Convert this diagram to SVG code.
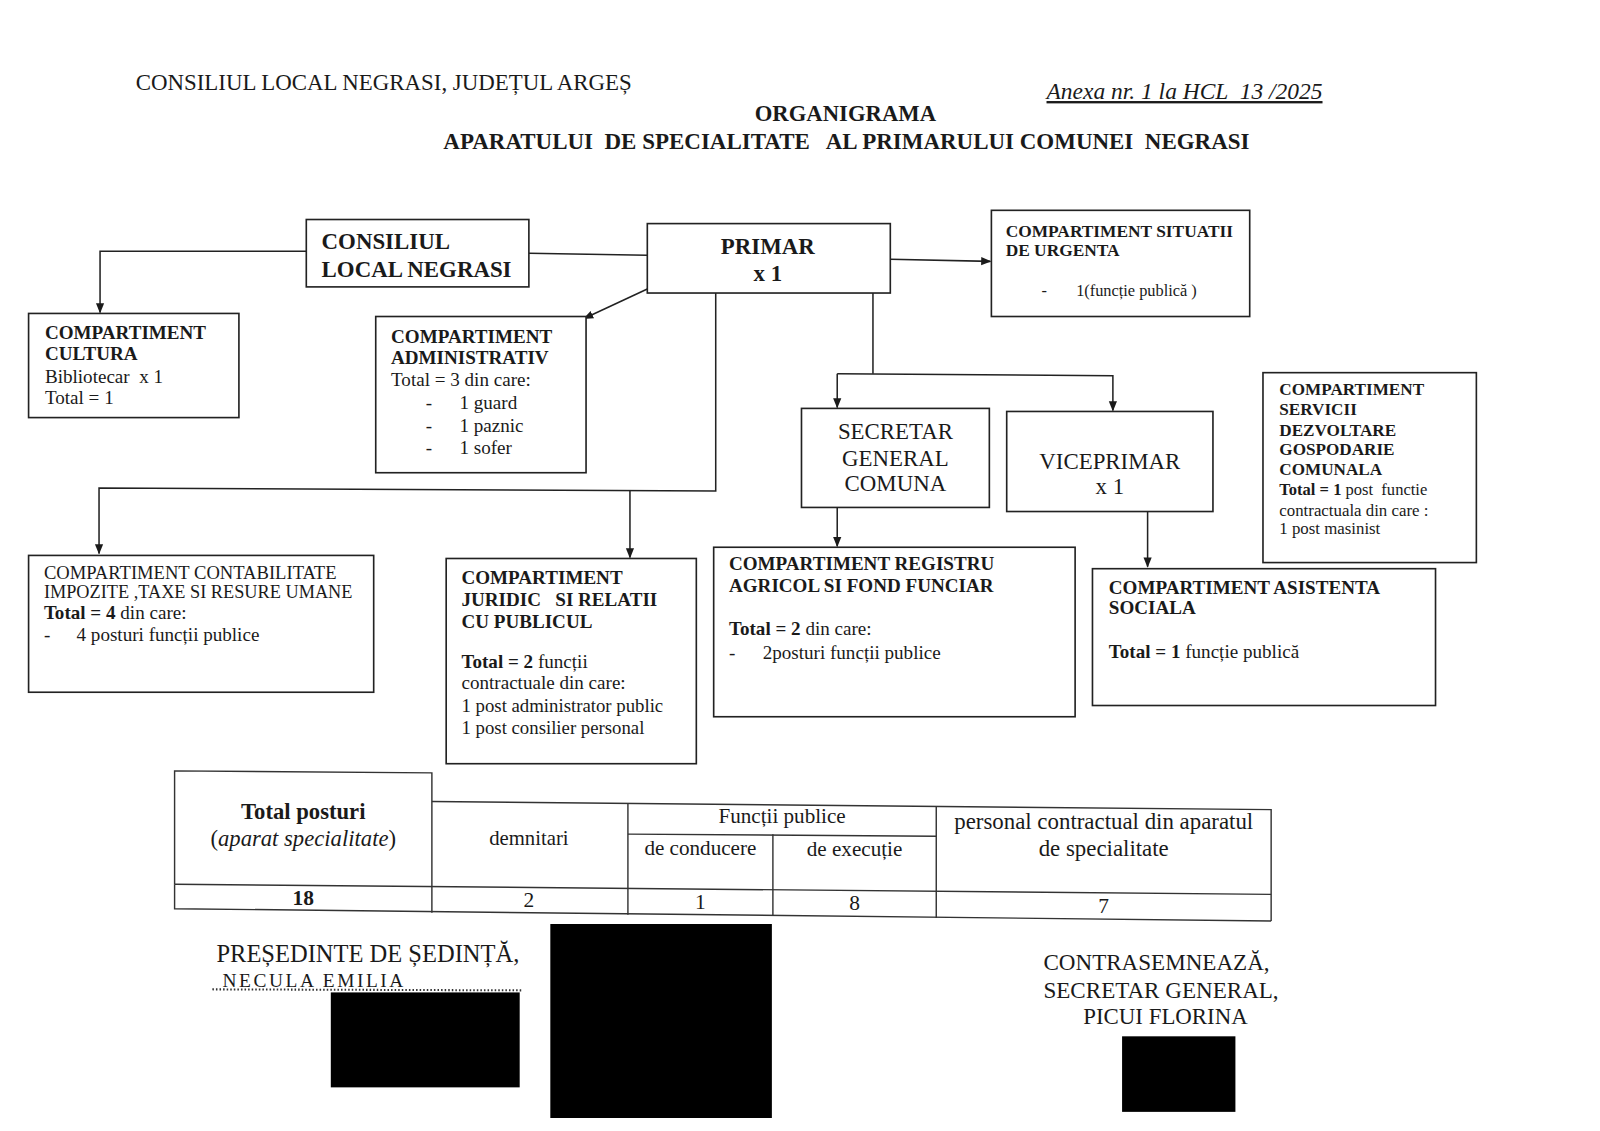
<svg xmlns="http://www.w3.org/2000/svg" width="1600" height="1131" viewBox="0 0 1600 1131">
<defs>
<marker id="ah" markerWidth="10" markerHeight="10" refX="9" refY="5" orient="auto" markerUnits="userSpaceOnUse">
<path d="M0,1 L10,5 L0,9 z" fill="#1a1a1a"/>
</marker>
<style>
text{font-family:"Liberation Serif","Times New Roman",serif;fill:#1a1a1a;white-space:pre}
.box{fill:#fff;stroke:#222;stroke-width:1.6}
.ln{fill:none;stroke:#222;stroke-width:1.5}
.b{font-weight:bold}
.s{font-size:18.7px}
.h{font-size:22.4px}
.c{text-anchor:middle}
.tb{fill:none;stroke:#333;stroke-width:1.4}
</style>
</defs>
<rect width="1600" height="1131" fill="#fff"/>
<g transform="scale(1.021)">

<g id="header">
<text x="133" y="88" class="h">CONSILIUL LOCAL NEGRASI, JUDEȚUL ARGEȘ</text>
<text x="1025" y="97" font-size="23" font-style="italic" text-decoration="underline">Anexa nr. 1 la HCL  13 /2025</text>
<text x="828" y="119" font-size="22.2" class="b c">ORGANIGRAMA</text>
<text x="829" y="146" font-size="22.5" class="b c">APARATULUI  DE SPECIALITATE   AL PRIMARULUI COMUNEI  NEGRASI</text>
</g>

<g id="connectors">
<polyline class="ln" points="300,246 98,246 98,306" marker-end="url(#ah)"/>
<line class="ln" x1="518" y1="248" x2="634" y2="250"/>
<line class="ln" x1="634" y1="283" x2="572" y2="312" marker-end="url(#ah)"/>
<line class="ln" x1="872" y1="254" x2="970" y2="256" marker-end="url(#ah)"/>
<polyline class="ln" points="701,287 701,481 97,478 97,542" marker-end="url(#ah)"/>
<line class="ln" x1="617" y1="481" x2="617" y2="546" marker-end="url(#ah)"/>
<polyline class="ln" points="855,287 855,366"/>
<polyline class="ln" points="820,366 1090,368 1090,402" marker-end="url(#ah)"/>
<line class="ln" x1="820" y1="366" x2="820" y2="399" marker-end="url(#ah)"/>
<line class="ln" x1="820" y1="497" x2="820" y2="535" marker-end="url(#ah)"/>
<line class="ln" x1="1124" y1="501" x2="1124" y2="555" marker-end="url(#ah)"/>
</g>

<g id="consiliul">
<rect class="box" x="300" y="215" width="218" height="66"/>
<text x="315" y="244" class="h b">CONSILIUL</text>
<text x="315" y="271" class="h b">LOCAL NEGRASI</text>
</g>

<g id="primar">
<rect class="box" x="634" y="219" width="238" height="68"/>
<text x="752" y="249" class="h b c">PRIMAR</text>
<text x="752" y="275" class="h b c">x 1</text>
</g>

<g id="urgenta">
<rect class="box" x="971" y="206" width="253" height="104"/>
<text x="985" y="232" font-size="17" class="b">COMPARTIMENT SITUATII</text>
<text x="985" y="251" font-size="17" class="b">DE URGENTA</text>
<text x="1020" y="290" font-size="16">-</text>
<text x="1054" y="290" font-size="16">1(funcție publică )</text>
</g>

<g id="cultura">
<rect class="box" x="28" y="307" width="206" height="102"/>
<text x="44" y="332" class="s b">COMPARTIMENT</text>
<text x="44" y="353" class="s b">CULTURA</text>
<text x="44" y="375" class="s">Bibliotecar  x 1</text>
<text x="44" y="396" class="s">Total = 1</text>
</g>

<g id="administrativ">
<rect class="box" x="368" y="310" width="206" height="153"/>
<text x="383" y="336" class="s b">COMPARTIMENT</text>
<text x="383" y="357" class="s b">ADMINISTRATIV</text>
<text x="383" y="378" class="s">Total = 3 din care:</text>
<text x="417" y="401" class="s">-</text><text x="450" y="401" class="s">1 guard</text>
<text x="417" y="423" class="s">-</text><text x="450" y="423" class="s">1 paznic</text>
<text x="417" y="445" class="s">-</text><text x="450" y="445" class="s">1 sofer</text>
</g>

<g id="secretar">
<rect class="box" x="785" y="400" width="184" height="97"/>
<text x="877" y="430" class="h c">SECRETAR</text>
<text x="877" y="456" class="h c">GENERAL</text>
<text x="877" y="481" class="h c">COMUNA</text>
</g>

<g id="viceprimar">
<rect class="box" x="986" y="403" width="202" height="98"/>
<text x="1087" y="459" class="h c">VICEPRIMAR</text>
<text x="1087" y="484" class="h c">x 1</text>
</g>

<g id="servicii">
<rect class="box" x="1237" y="365" width="209" height="186"/>
<text x="1253" y="387" font-size="16.8" class="b">COMPARTIMENT</text>
<text x="1253" y="406" font-size="16.8" class="b">SERVICII</text>
<text x="1253" y="427" font-size="16.8" class="b">DEZVOLTARE</text>
<text x="1253" y="446" font-size="16.8" class="b">GOSPODARIE</text>
<text x="1253" y="465" font-size="16.8" class="b">COMUNALA</text>
<text x="1253" y="485" font-size="16.2"><tspan class="b">Total = 1</tspan> post  functie</text>
<text x="1253" y="505" font-size="16.5">contractuala din care :</text>
<text x="1253" y="523" font-size="16.5">1 post masinist</text>
</g>

<g id="contabilitate">
<rect class="box" x="28" y="544" width="338" height="134"/>
<text x="43" y="567" font-size="18.2">COMPARTIMENT CONTABILITATE</text>
<text x="43" y="586" font-size="17.9">IMPOZITE ,TAXE SI RESURE UMANE</text>
<text x="43" y="606" class="s"><tspan class="b">Total = 4</tspan> din care:</text>
<text x="43" y="628" class="s">-</text><text x="75" y="628" class="s">4 posturi funcții publice</text>
</g>

<g id="juridic">
<rect class="box" x="437" y="547" width="245" height="201"/>
<text x="452" y="572" class="s b">COMPARTIMENT</text>
<text x="452" y="594" class="s b">JURIDIC   SI RELATII</text>
<text x="452" y="615" class="s b">CU PUBLICUL</text>
<text x="452" y="654" class="s"><tspan class="b">Total = 2</tspan> funcții</text>
<text x="452" y="675" class="s">contractuale din care:</text>
<text x="452" y="697" font-size="18.4">1 post administrator public</text>
<text x="452" y="719" font-size="18.4">1 post consilier personal</text>
</g>

<g id="registru">
<rect class="box" x="699" y="536" width="354" height="166"/>
<text x="714" y="558" class="s b">COMPARTIMENT REGISTRU</text>
<text x="714" y="580" class="s b">AGRICOL SI FOND FUNCIAR</text>
<text x="714" y="622" class="s"><tspan class="b">Total = 2</tspan> din care:</text>
<text x="714" y="645" class="s">-</text><text x="747" y="645" class="s">2posturi funcții publice</text>
</g>

<g id="asistenta">
<rect class="box" x="1070" y="557" width="336" height="134"/>
<text x="1086" y="582" class="s b">COMPARTIMENT ASISTENTA</text>
<text x="1086" y="601" class="s b">SOCIALA</text>
<text x="1086" y="644" class="s"><tspan class="b">Total = 1</tspan> funcție publică</text>
</g>

<g id="table">
<polyline class="tb" points="171,866 171,755 423,757 423,894"/>
<polyline class="tb" points="423,785 1245,793 1245,902"/>
<line class="tb" x1="171" y1="866" x2="1245" y2="876"/>
<polyline class="tb" points="171,866 171,890 1245,902"/>
<line class="tb" x1="615" y1="787" x2="615" y2="896"/>
<line class="tb" x1="757" y1="817" x2="757" y2="897"/>
<line class="tb" x1="917" y1="790" x2="917" y2="899"/>
<line class="tb" x1="615" y1="817" x2="917" y2="819"/>
<text x="297" y="802" font-size="22.2" class="b c">Total posturi</text>
<text x="297" y="829" font-size="22.2" class="c">(<tspan font-style="italic">aparat specialitate</tspan>)</text>
<text x="518" y="828" font-size="20.3" class="c">demnitari</text>
<text x="766" y="806" font-size="20.7" class="c">Funcții publice</text>
<text x="686" y="837" font-size="20.7" class="c">de conducere</text>
<text x="837" y="838" font-size="20.7" class="c">de execuție</text>
<text x="1081" y="812" font-size="22.4" class="c">personal contractual din aparatul</text>
<text x="1081" y="838" font-size="22.4" class="c">de specialitate</text>
<text x="297" y="886" font-size="21" class="b c">18</text>
<text x="518" y="888" font-size="21" class="c">2</text>
<text x="686" y="890" font-size="21" class="c">1</text>
<text x="837" y="891" font-size="21" class="c">8</text>
<text x="1081" y="894" font-size="21" class="c">7</text>
</g>

<g id="signatures">
<text x="212" y="942" font-size="24">PREȘEDINTE DE ȘEDINȚĂ,</text>
<text x="218" y="967" font-size="19" font-family="DejaVu Sans" font-weight="200" fill="#333" letter-spacing="2.5">NECULA EMILIA</text>
<line x1="208" y1="969" x2="512" y2="970" stroke="#333" stroke-width="2" stroke-dasharray="1.5,2"/>
<rect x="324" y="972" width="185" height="93" fill="#000"/>
<rect x="539" y="905" width="217" height="190" fill="#000"/>
<text x="1022" y="950" font-size="22.6">CONTRASEMNEAZĂ,</text>
<text x="1022" y="977" font-size="22.6">SECRETAR GENERAL,</text>
<text x="1061" y="1003" font-size="22.4">PICUI FLORINA</text>
<rect x="1099" y="1015" width="111" height="74" fill="#000"/>
</g>
</g>
</svg>
